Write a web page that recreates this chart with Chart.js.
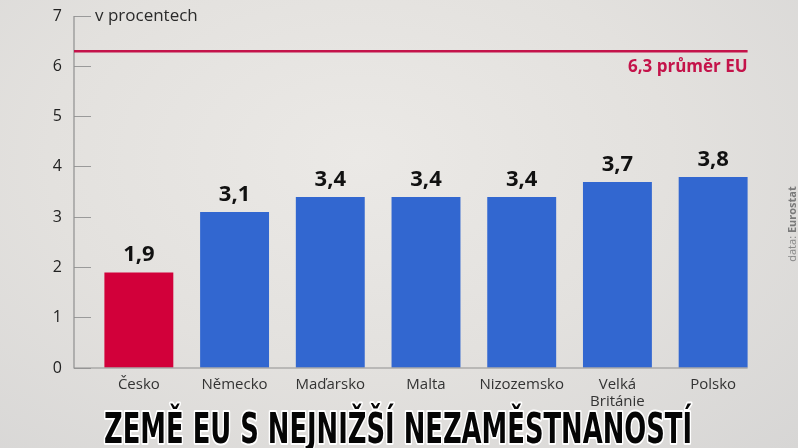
<!DOCTYPE html>
<html>
<head>
<meta charset="utf-8">
<script src="https://cdn.jsdelivr.net/npm/chart.js@4.4.1/dist/chart.umd.min.js"></script>
<style>
html,body{margin:0;padding:0;}
body{width:798px;height:448px;overflow:hidden;background:radial-gradient(ellipse at 45% 35%,#ebe9e6 0%,#e3e1de 50%,#d7d6d5 100%);}
#wrap{position:relative;width:798px;height:448px;}
</style>
</head>
<body>
<div id="wrap"><canvas id="c" width="798" height="448"></canvas></div>
<script>
const categories = ['Česko','Německo','Maďarsko','Malta','Nizozemsko',['Velká','Británie'],'Polsko'];
const values = [1.9,3.1,3.4,3.4,3.4,3.7,3.8];
const barColors = ['#d2003a','#3267d0','#3267d0','#3267d0','#3267d0','#3267d0','#3267d0'];
const euAverage = 6.3;
const euLabel = '6,3 průměr EU';
const unitLabel = 'v procentech';
const sourceLabel = ['data: ','Eurostat'];
const titleText = 'ZEMĚ EU S NEJNIŽŠÍ NEZAMĚSTNANOSTÍ';
const yMin = 0, yMax = 7, yStep = 1;

const fmt = v => v.toFixed(1).replace('.', ',');

const decor = {
  id: 'decor',
  afterDatasetsDraw(chart) {
    const {ctx, chartArea, scales: {x, y}} = chart;
    const axisX = chartArea.left - y.options.grid.tickLength;
    const meta = chart.getDatasetMeta(0);
    const last = meta.data[meta.data.length - 1];
    const rightEdge = last.x + last.width / 2;
    const y0 = y.getPixelForValue(0);
    const yTop = y.getPixelForValue(yMax);
    ctx.save();
    // axis line
    ctx.strokeStyle = '#8f8f8f';
    ctx.lineWidth = 1.2;
    ctx.beginPath();
    ctx.moveTo(axisX, yTop);
    ctx.lineTo(axisX, y0);
    ctx.lineTo(rightEdge, y0);
    ctx.stroke();
    // EU average line
    const yEu = y.getPixelForValue(euAverage);
    ctx.strokeStyle = '#c4134a';
    ctx.lineWidth = 2.5;
    ctx.beginPath();
    ctx.moveTo(axisX, yEu);
    ctx.lineTo(rightEdge, yEu);
    ctx.stroke();
    ctx.fillStyle = '#c4134a';
    ctx.font = 'bold 17px "Open Sans"';
    ctx.textAlign = 'right';
    ctx.textBaseline = 'middle';
    ctx.fillText(euLabel, rightEdge, yEu + 16);
    // unit label
    ctx.fillStyle = '#2a2a2a';
    ctx.font = '17px "Open Sans"';
    ctx.textAlign = 'left';
    ctx.fillText(unitLabel, chartArea.left + 4, yTop);
    // value labels
    ctx.fillStyle = '#111';
    ctx.font = 'bold 22px "Open Sans"';
    ctx.textAlign = 'center';
    ctx.textBaseline = 'alphabetic';
    meta.data.forEach((bar, i) => {
      ctx.fillText(fmt(values[i]), bar.x, bar.y - 11);
    });
    // source label rotated
    ctx.save();
    ctx.translate(796, 224);
    ctx.rotate(-Math.PI / 2);
    ctx.textBaseline = 'alphabetic';
    ctx.font = '11px "Open Sans"';
    const w1 = ctx.measureText(sourceLabel[0]).width;
    ctx.font = 'bold 11px "Open Sans"';
    const w2 = ctx.measureText(sourceLabel[1]).width;
    const start = -(w1 + w2) / 2;
    ctx.textAlign = 'left';
    ctx.fillStyle = '#8a8a8a';
    ctx.font = '11px "Open Sans"';
    ctx.fillText(sourceLabel[0], start, 0);
    ctx.fillStyle = '#7a7a7a';
    ctx.font = 'bold 11px "Open Sans"';
    ctx.fillText(sourceLabel[1], start + w1, 0);
    ctx.restore();
    // title
    ctx.save();
    ctx.font = 'bold 43px "DejaVu Sans Condensed", "DejaVu Sans", "Liberation Sans", sans-serif';
    const tw = ctx.measureText(titleText).width;
    const targetW = 588;
    const cx = 398;
    ctx.translate(cx, 443);
    ctx.scale(targetW / tw, 1);
    ctx.textAlign = 'center';
    ctx.textBaseline = 'alphabetic';
    ctx.lineJoin = 'round';
    ctx.strokeStyle = '#ffffff';
    ctx.lineWidth = 4;
    ctx.strokeText(titleText, 0, 0);
    ctx.fillStyle = '#050505';
    ctx.fillText(titleText, 0, 0);
    ctx.restore();
    ctx.restore();
  }
};

new Chart(document.getElementById('c'), {
  type: 'bar',
  data: {
    labels: categories,
    datasets: [{
      data: values,
      backgroundColor: barColors,
      borderWidth: 0,
      categoryPercentage: 1,
      barPercentage: 0.72
    }]
  },
  options: {
    responsive: false,
    animation: false,
    devicePixelRatio: 1,
    layout: {padding: {top: 16, right: 37, left: 0, bottom: 0}},
    plugins: {legend: {display: false}, tooltip: {enabled: false}, title: {display: false}},
    scales: {
      x: {
        grid: {display: false},
        border: {display: false},
        ticks: {color: '#333', font: {family: 'Open Sans', size: 15, lineHeight: 1.15}, padding: 0, maxRotation: 0, autoSkip: false},
        afterFit(scale) { scale.height = 80; }
      },
      y: {
        min: yMin, max: yMax,
        ticks: {stepSize: yStep, color: '#222', font: {family: 'Open Sans', size: 16}, padding: 12},
        grid: {drawOnChartArea: false, drawTicks: true, tickLength: 17, color: '#9a9a9a', lineWidth: 1},
        border: {display: false},
        afterFit(scale) { scale.width = 91; scale.paddingTop = 0; scale.paddingBottom = 0; }
      }
    }
  },
  plugins: [decor]
});
</script>
</body>
</html>
